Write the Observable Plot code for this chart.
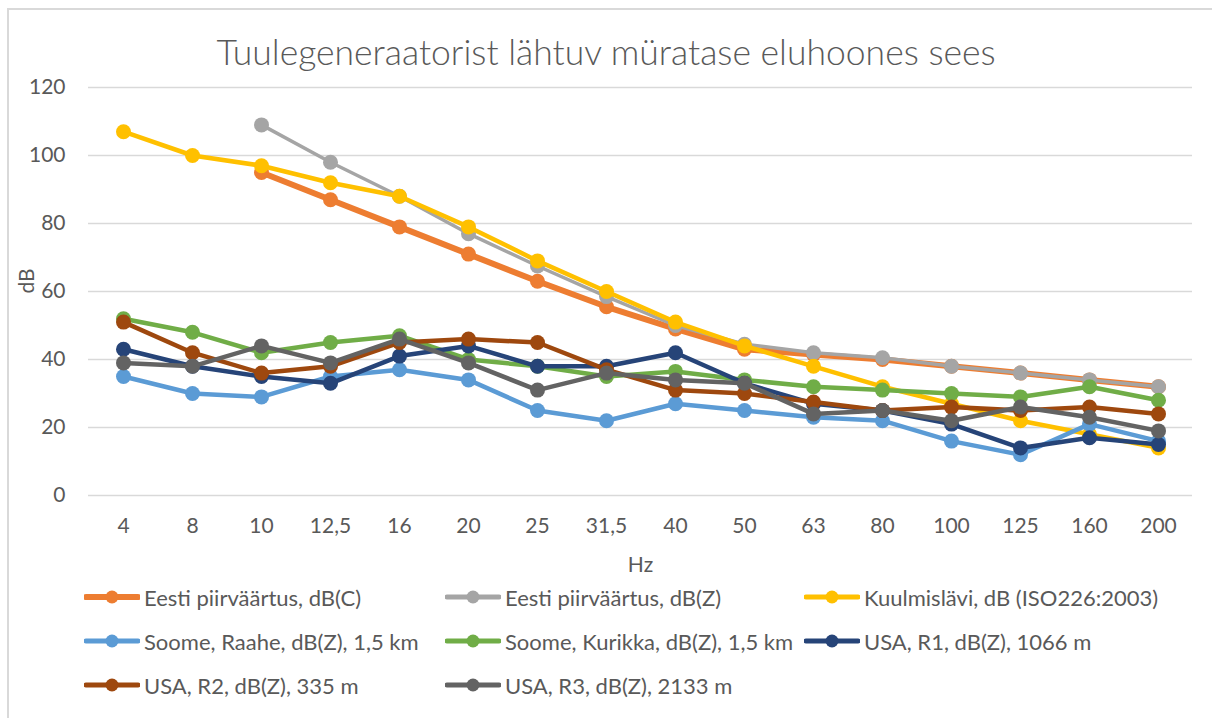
<!DOCTYPE html>
<html>
<head>
<meta charset="utf-8">
<script src="https://cdn.jsdelivr.net/npm/d3@7"></script>
<script src="https://cdn.jsdelivr.net/npm/@observablehq/plot@0.6"></script>
<style>
  html, body { margin: 0; padding: 0; background: #fff; }
  #wrap { position: relative; width: 1212px; height: 718px; overflow: hidden; font-family: Lato, "Noto Sans", sans-serif; color: #595959; }
  #frame { position: absolute; left: 7px; top: 8px; width: 1300px; height: 800px; border-left: 2px solid #d9d9d9; border-top: 2px solid #d9d9d9; }
  #title { position: absolute; left: 0; width: 1212px; top: 29px; text-align: center; font-size: 35.5px; font-weight: 300; line-height: 46px; color: #595959; }
  #chart { position: absolute; left: 0; top: 0; }
  .leg { position: absolute; display: flex; align-items: center; font-size: 22px; color: #595959; white-space: nowrap; }
  .leg svg { margin-right: 4px; }
</style>
</head>
<body>
<div id="wrap">
  <div id="frame"></div>
  <div id="chart"></div>
  <div id="title">Tuulegeneraatorist lähtuv müratase eluhoones sees</div>
  <div id="legend"></div>
</div>
<script>
const categories = ["4","8","10","12,5","16","20","25","31,5","40","50","63","80","100","125","160","200"];
const yTicks = [0, 20, 40, 60, 80, 100, 120];

const eestiC  = [null,null,95,87,79,71,63,55.5,49,43,41.5,40,38,36,34,32];
const eestiZ  = [null,null,109,98,88,77,67.5,58.5,50,44.5,42,40.5,38,36,34,32];
const kuulmis = [107,100,97,92,88,79,69,60,51,44,38,32,27,22,18,14];
const raahe   = [35,30,29,35,37,34,25,22,27,25,23,22,16,12,21,16];
const kurikka = [52,48,42,45,47,40,38,35,36.5,34,32,31,30,29,32,28];
const usaR1   = [43,38,35,33,41,44,38,38,42,33,27,25,21,14,17,15];
const usaR2   = [51,42,36,38,45,46,45,37,31,30,27.5,25,26,25,26,24];
const usaR3   = [39,38,44,39,46,39,31,36,34,33,24,25,22,26,23,19];

const seriesNames = [
  "Eesti piirväärtus, dB(C)",
  "Eesti piirväärtus, dB(Z)",
  "Kuulmislävi, dB (ISO226:2003)",
  "Soome, Raahe, dB(Z), 1,5 km",
  "Soome, Kurikka, dB(Z), 1,5 km",
  "USA, R1, dB(Z), 1066 m",
  "USA, R2, dB(Z), 335 m",
  "USA, R3, dB(Z), 2133 m"
];
const seriesValues = [eestiC, eestiZ, kuulmis, raahe, kurikka, usaR1, usaR2, usaR3];
const seriesColors = ["#ED7D31","#A5A5A5","#FFC000","#5B9BD5","#70AD47","#264478","#9E480E","#636363"];
const seriesWidths = [6, 3.5, 4.5, 4.5, 4.5, 4.5, 4.5, 4.5];

const series = seriesNames.map((name, i) => ({
  name, color: seriesColors[i], width: seriesWidths[i],
  rows: categories.map((c, j) => ({cat: c, value: seriesValues[i][j]})).filter(d => d.value != null)
}));

const marks = [
  Plot.gridY(yTicks, {stroke: "#d9d9d9", strokeOpacity: 1, strokeWidth: 1.5}),
  Plot.axisY(yTicks, {tickSize: 0, tickPadding: 23, fontSize: 21, fill: "#595959", label: null}),
  Plot.axisX({tickSize: 0, tickPadding: 23, fontSize: 21, fill: "#595959", label: null}),
  Plot.text(["Hz"], {frameAnchor: "bottom", dy: 70, text: d => d, fontSize: 21, fill: "#595959", lineAnchor: "middle"}),
  Plot.text(["dB"], {frameAnchor: "left", dx: -61, dy: 2, text: d => d, rotate: -90, fontSize: 21, fill: "#595959", lineAnchor: "middle"})
];
for (const s of series) {
  marks.push(Plot.line(s.rows, {x: "cat", y: "value", stroke: s.color, strokeWidth: s.width, strokeLinejoin: "round", strokeLinecap: "round"}));
  marks.push(Plot.dot(s.rows, {x: "cat", y: "value", fill: s.color, r: 7.5}));
}

const chart = Plot.plot({
  width: 1212,
  height: 580,
  marginTop: 87,
  marginBottom: 85,
  marginLeft: 88,
  marginRight: 20,
  style: {background: "transparent", fontFamily: "Lato, 'Noto Sans', sans-serif", color: "#595959"},
  x: {type: "point", domain: categories, padding: 0.5, axis: null},
  y: {domain: [0, 120], axis: null},
  marks
});
document.getElementById("chart").appendChild(chart);

// legend
const legCols = [84, 445, 804];
const legRows = [597, 641, 685];
const legend = document.getElementById("legend");
series.forEach((s, i) => {
  const col = i % 3, row = Math.floor(i / 3);
  const div = document.createElement("div");
  div.className = "leg";
  div.style.left = legCols[col] + "px";
  div.style.top = (legRows[row] - 14) + "px";
  div.style.height = "28px";
  div.innerHTML = `<svg width="56" height="20"><line x1="2" y1="10" x2="54" y2="10" stroke="${s.color}" stroke-width="${Math.max(s.width, 5)}" stroke-linecap="round"/><circle cx="28" cy="10" r="6.5" fill="${s.color}"/></svg><span>${s.name}</span>`;
  legend.appendChild(div);
});
</script>
</body>
</html>
